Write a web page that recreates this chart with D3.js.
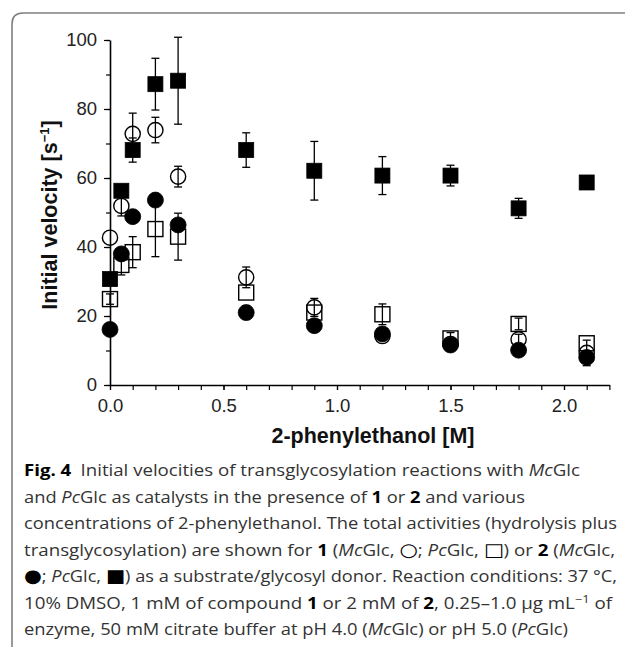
<!DOCTYPE html>
<html>
<head>
<script src="https://d3js.org/d3.v7.min.js"></script>
<style>
  body { margin: 0; background: #fff; }
  .tick text { font-family: "Liberation Sans", Arial, sans-serif; font-size: 18.5px; fill: #222; }
  .axis-title { font-family: "Liberation Sans", Arial, sans-serif; font-size: 21.5px; font-weight: bold; fill: #111; }
  .caption { font-family: "Open Sans", "Noto Sans", sans-serif; font-size: 16px; fill: #333; }
</style>
</head>
<body>
<svg width="625" height="647"></svg>
<script>
  // 2-phenylethanol concentration [M]
  var conc = [0, 0.05, 0.1, 0.2, 0.3, 0.6, 0.9, 1.2, 1.5, 1.8, 2.1];

  // McGlc with 1 (open circles)
  var mc1 = [42.7, 51.9, 72.8, 73.9, 60.4, 31.2, 22.5, 14.2, 11.9, 13.2, 9.3];
  var mc1Err = [0, 2.9, 6, 3.7, 3, 3, 2.6, 0, 0, 1.5, 3.7];
  // PcGlc with 1 (open squares)
  var pc1 = [24.9, 34.8, 38.5, 45.2, 43.0, 26.8, 21.0, 20.5, 13.5, 17.7, 12.1];
  var pc1Err = [1.5, 2.9, 4.5, 8, 6.8, 0, 0, 3, 1.7, 1.7, 0];
  // McGlc with 2 (filled circles)
  var mc2 = [16.1, 38.0, 48.8, 53.6, 46.4, 21.0, 17.2, 14.8, 11.6, 10.1, 8.0];
  var mc2Err = [0, 0, 0, 0, 0, 2, 0, 0, 0, 0, 0];
  // PcGlc with 2 (filled squares)
  var pc2 = [30.7, 56.3, 68.1, 87.2, 88.2, 68.1, 62.1, 60.7, 60.7, 51.2, 58.7];
  var pc2Err = [0, 0, 3.5, 7.5, 12.6, 5, 8.5, 5.5, 3, 2.9, 0];

  var xTicks = [0, 0.5, 1.0, 1.5, 2.0];
  var yTicks = [0, 20, 40, 60, 80, 100];

  var svg = d3.select('svg');

  // frame of the figure
  svg.append('path')
    .attr('d', 'M625,13 L23,13 Q12,13 12,24 L12,647')
    .attr('fill', 'none')
    .attr('stroke', '#808080')
    .attr('stroke-width', 1.6);

  var x = d3.scaleLinear().domain([0, 2.2]).range([110, 609.4]);
  var y = d3.scaleLinear().domain([0, 100]).range([385, 40]);

  // minor ticks
  svg.append('g')
    .attr('transform', 'translate(0,385)')
    .call(d3.axisBottom(x).tickValues(d3.range(0, 23).map(d => d / 10)).tickSize(5).tickFormat(''))
    .call(g => g.select('.domain').remove())
    .selectAll('line').attr('stroke', '#000').attr('stroke-width', 1.2);
  svg.append('g')
    .attr('transform', 'translate(110,0)')
    .call(d3.axisLeft(y).tickValues(d3.range(0, 11).map(d => d * 10)).tickSize(4).tickFormat(''))
    .call(g => g.select('.domain').remove())
    .selectAll('line').attr('stroke', '#000').attr('stroke-width', 1.2);

  var xAxis = svg.append('g')
    .attr('transform', 'translate(0,385)')
    .call(d3.axisBottom(x).tickValues(xTicks).tickSize(5).tickSizeOuter(0).tickPadding(9).tickFormat(d3.format('.1f')));
  var yAxis = svg.append('g')
    .attr('transform', 'translate(110,0)')
    .call(d3.axisLeft(y).tickValues(yTicks).tickSize(6).tickSizeOuter(0).tickPadding(7));
  [xAxis, yAxis].forEach(function (a) {
    a.select('.domain').attr('stroke', '#000').attr('stroke-width', 1.6);
    a.selectAll('line').attr('stroke', '#000').attr('stroke-width', 1.2);
  });

  svg.append('text')
    .attr('class', 'axis-title')
    .attr('x', 373).attr('y', 443)
    .attr('text-anchor', 'middle')
    .text('2-phenylethanol [M]');

  var yt = svg.append('text')
    .attr('class', 'axis-title')
    .attr('transform', 'translate(57,215) rotate(-90)')
    .attr('text-anchor', 'middle');
  yt.append('tspan').text('Initial velocity [s');
  yt.append('tspan').attr('dy', -8).attr('font-size', 13).text('\u22121');
  yt.append('tspan').attr('dy', 8).text(']');

  var series = [
    { v: pc1, e: pc1Err, shape: 'square', filled: false },
    { v: mc1, e: mc1Err, shape: 'circle', filled: false },
    { v: pc2, e: pc2Err, shape: 'square', filled: true },
    { v: mc2, e: mc2Err, shape: 'circle', filled: true }
  ];

  series.forEach(function (s) {
    var pts = conc.map((c, i) => ({ c: c, v: s.v[i], e: s.e[i] }));
    var g = svg.append('g');
    var eb = g.selectAll('g.err').data(pts.filter(d => d.e > 0)).enter().append('g')
      .attr('stroke', '#000').attr('stroke-width', 1.3);
    eb.append('line')
      .attr('x1', d => x(d.c)).attr('x2', d => x(d.c))
      .attr('y1', d => y(d.v + d.e)).attr('y2', d => y(d.v - d.e));
    eb.append('line')
      .attr('x1', d => x(d.c) - 4).attr('x2', d => x(d.c) + 4)
      .attr('y1', d => y(d.v + d.e)).attr('y2', d => y(d.v + d.e));
    eb.append('line')
      .attr('x1', d => x(d.c) - 4).attr('x2', d => x(d.c) + 4)
      .attr('y1', d => y(d.v - d.e)).attr('y2', d => y(d.v - d.e));

    if (s.shape === 'square') {
      g.selectAll('rect').data(pts).enter().append('rect')
        .attr('x', d => x(d.c) - 7.5).attr('y', d => y(d.v) - 7.5)
        .attr('width', 15).attr('height', 15)
        .attr('fill', s.filled ? '#000' : 'none')
        .attr('stroke', '#000').attr('stroke-width', s.filled ? 0.8 : 1.4);
    } else {
      g.selectAll('circle').data(pts).enter().append('circle')
        .attr('cx', d => x(d.c)).attr('cy', d => y(d.v))
        .attr('r', s.filled ? 8 : 7.6)
        .attr('fill', s.filled ? '#000' : 'none')
        .attr('stroke', '#000').attr('stroke-width', s.filled ? 0.8 : 1.4);
    }
  });

  // caption
  var capLines = [
    { w: 556, parts: [['Fig. 4', 'b'], ['\u2002Initial velocities of transglycosylation reactions with '], ['Mc', 'i'], ['Glc']] },
    { w: 501, parts: [['and '], ['Pc', 'i'], ['Glc as catalysts in the presence of '], ['1', 'b'], [' or '], ['2', 'b'], [' and various']] },
    { w: 593, parts: [['concentrations of 2-phenylethanol. The total activities (hydrolysis plus']] },
    { w: 591, parts: [['transglycosylation) are shown for '], ['1', 'b'], [' ('], ['Mc', 'i'], ['Glc, '], ['\u25CB', 'g'], ['; '], ['Pc', 'i'], ['Glc, '], ['\u25A1', 'g'], [') or '], ['2', 'b'], [' ('], ['Mc', 'i'], ['Glc,']] },
    { w: 593, parts: [['\u25CF', 'g'], ['; '], ['Pc', 'i'], ['Glc, '], ['\u25A0', 'g'], [') as a substrate/glycosyl donor. Reaction conditions: 37 \u00B0C,']] },
    { w: 588, parts: [['10% DMSO, 1 mM of compound '], ['1', 'b'], [' or 2 mM of '], ['2', 'b'], [', 0.25\u20131.0 \u00B5g mL'], ['\u22121', 's'], [' of', 'd']] },
    { w: 544, parts: [['enzyme, 50 mM citrate buffer at pH 4.0 ('], ['Mc', 'i'], ['Glc) or pH 5.0 ('], ['Pc', 'i'], ['Glc)']] }
  ];

  capLines.forEach(function (line, i) {
    var t = svg.append('text')
      .attr('class', 'caption')
      .attr('x', 24).attr('y', 476 + i * 26.5)
      .attr('textLength', line.w)
      .attr('lengthAdjust', 'spacingAndGlyphs');
    line.parts.forEach(function (p) {
      var ts = t.append('tspan').text(p[0]);
      if (p[1] === 'b') ts.attr('font-weight', 'bold').attr('fill', '#000');
      if (p[1] === 'i') ts.attr('font-style', 'italic');
      if (p[1] === 'g') ts.attr('font-family', 'DejaVu Sans').attr('font-size', 18).attr('fill', '#000');
      if (p[1] === 's') ts.attr('dy', -6).attr('font-size', 11);
      if (p[1] === 'd') ts.attr('dy', 6);
    });
  });
</script>
</body>
</html>
